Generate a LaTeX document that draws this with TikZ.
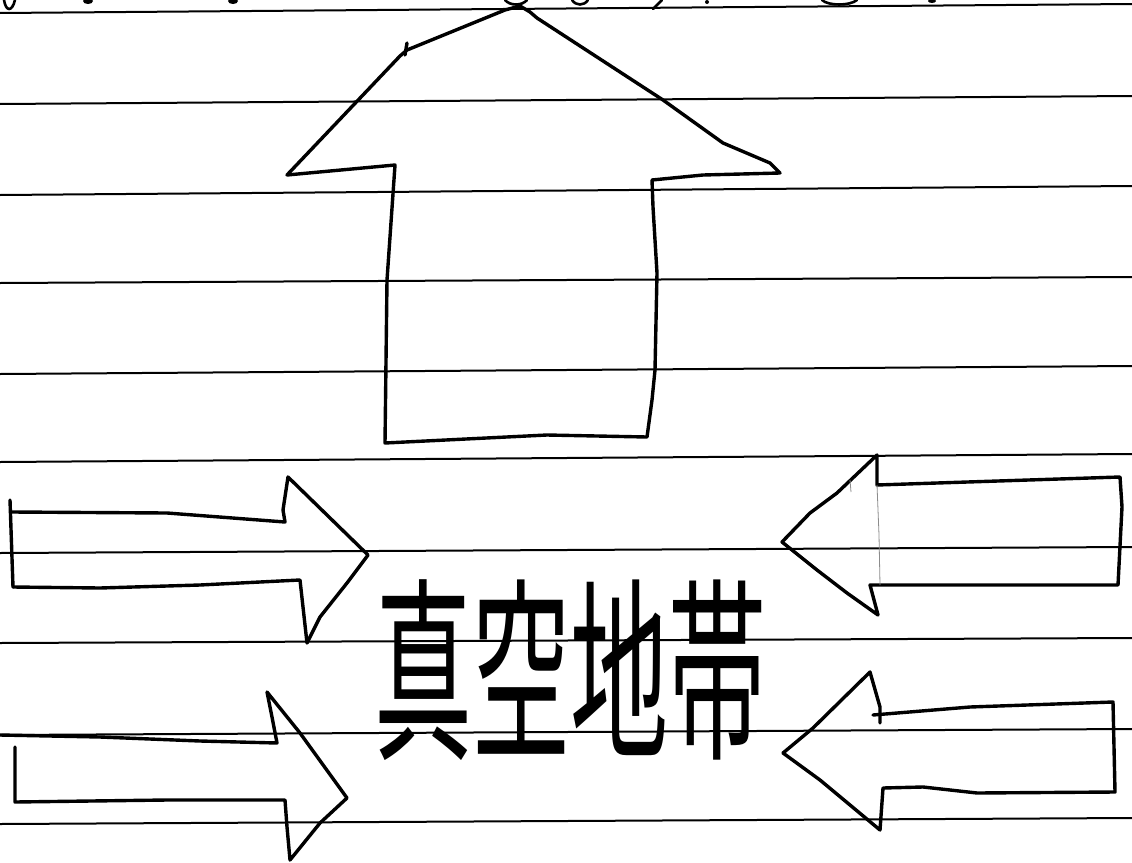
\documentclass[tikz,border=0pt]{standalone}
\usepackage{fontspec}
\newfontfamily\cjk{Noto Sans CJK JP}
\begin{document}
\begin{tikzpicture}[x=1pt,y=-1pt,
  rule/.style={line width=2pt, black},
  ink/.style={line width=3.4pt, line join=round, line cap=round, black},
  faint/.style={line width=0.8pt, black!45},
  frag/.style={line width=2.6pt, line cap=round, black}]
\useasboundingbox (0,0) rectangle (1132,862);
\fill[white] (0,0) rectangle (1132,862);
% ruled lines of the paper
\foreach \a/\b in {13/4,104/96,195/186,283/277,374/366,462/454,553/547,643/638,735/729,824/818}
  \draw[rule] (0,\a) -- (1132,\b);
% cut-off handwriting at the top edge
\draw[frag] (4,0) .. controls (6,12) and (12,12) .. (15,0);
\fill (88,1) ellipse (5pt and 3pt);
\fill (233,1) ellipse (5pt and 3pt);
\draw[frag] (505,0) .. controls (510,6) and (522,6) .. (527,0);
\draw[frag] (572,0) .. controls (576,6) and (584,6) .. (588,0);
\draw[frag] (653,9) -- (662,0);
\fill (707,2) ellipse (2pt and 2pt);
\draw[frag] (822,0) .. controls (828,6) and (850,6) .. (857,0);
\fill (932,1) ellipse (4pt and 2pt);
% up arrow
\coordinate (uptip) at (520,6);
\draw[ink] (uptip) -- (505,10) -- (407,50) -- (400,56) -- (287,175) -- (395,165)
  -- (387,280) -- (385,443) -- (547,435) -- (647,437) -- (652,400) -- (655,370)
  -- (657,273) -- (653,207) -- (652,180) -- (703,175) -- (780,173) -- (770,163)
  -- (723,143) -- (663,100) -- (537,18) -- (530,12) -- cycle;
\draw[ink] (407,43) -- (405,55);
% left upper arrow
\draw[ink] (10,500) -- (13,587);
\draw[ink] (12,512) -- (167,513) -- (285,522) -- (283,510) -- (288,477) -- (368,555)
  -- (347,583) -- (320,617) -- (307,643) -- (300,580) -- (200,585) -- (100,588) -- (13,587);
% left lower arrow
\draw[ink] (0,735) -- (100,737) -- (200,741) -- (277,743) -- (272,717) -- (267,692)
  -- (300,733) -- (347,798) -- (320,823) -- (290,860) -- (287,827) -- (285,800)
  -- (167,800) -- (15,802) -- (15,747);
% right upper arrow
\draw[ink] (782,542) -- (810,513) -- (837,493) -- (877,455) -- (877,485) -- (937,483)
  -- (1120,477) -- (1122,507) -- (1118,585) -- (870,585) -- (878,615) -- (847,593)
  -- (817,570) -- cycle;
\draw[faint] (877,485) -- (879,535) -- (880,585);
\draw[faint] (850,480) -- (851,492);
% right lower arrow
\draw[ink] (783,753) -- (813,728) -- (870,672) -- (880,707) -- (880,723);
\draw[ink] (873,715) -- (970,707) -- (1113,702) -- (1115,792) -- (977,793) -- (923,787)
  -- (883,788) -- (880,830) -- (820,780) -- (783,753);
% label
\node[inner sep=0pt] (label) at (570,670) {\scalebox{1}[2.0]{\cjk\fontsize{98pt}{98pt}\selectfont 真空地帯}};
\end{tikzpicture}
\end{document}
